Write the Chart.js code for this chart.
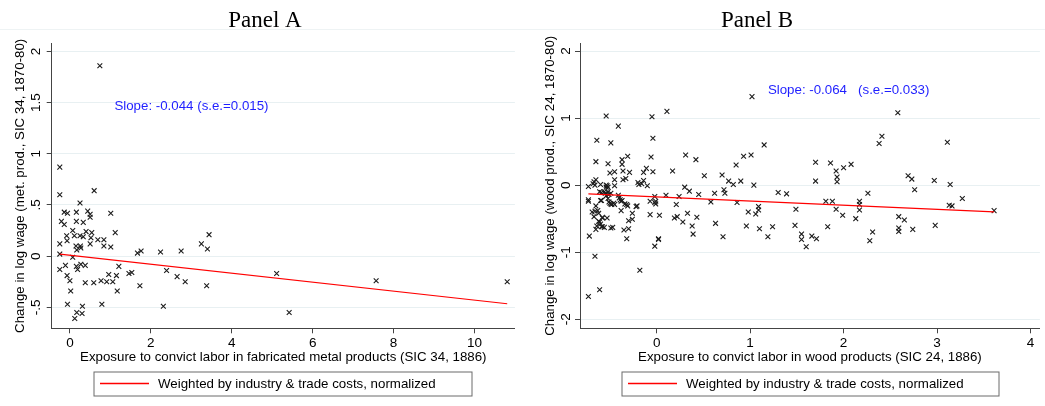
<!DOCTYPE html>
<html>
<head>
<meta charset="utf-8">
<script src="https://cdn.jsdelivr.net/npm/chart.js@4.4.0/dist/chart.umd.min.js"></script>
<style>
  body { margin: 0; background: #fff; }
  #wrap { position: relative; width: 1045px; height: 406px; overflow: hidden; }
  canvas { position: absolute; top: 0; }
  #rule { position: absolute; left: 0; top: 29px; width: 1045px; height: 1px; background: #eef3f4; }
</style>
</head>
<body>
<div id="wrap">
  <div id="rule"></div>
  <canvas id="panelA" width="520" height="406" style="left:0"></canvas>
  <canvas id="panelB" width="525" height="406" style="left:520px"></canvas>
</div>
<script>
// Panel A: fabricated metal products (SIC 34)
const ptsA = [
  [0.74,1.86],[-0.25,0.87],[-0.25,0.60],[0.60,0.64],[0.25,0.52],[-0.14,0.43],[-0.06,0.42],[0.16,0.43],
  [0.44,0.44],[0.50,0.41],[0.50,0.38],[1.01,0.42],[-0.21,0.34],[-0.14,0.31],[0.16,0.34],[0.33,0.33],
  [0.07,0.25],[0.11,0.20],[0.40,0.24],[0.54,0.23],[1.12,0.23],[-0.08,0.20],[0.25,0.20],[0.33,0.19],
  [0.52,0.18],[-0.07,0.15],[0.69,0.16],[0.84,0.16],[-0.25,0.12],[0.50,0.12],[0.15,0.10],[0.26,0.10],
  [0.27,0.08],[0.84,0.10],[1.01,0.09],[0.17,0.06],[-0.25,0.02],[0.07,-0.01],[-0.25,-0.13],[-0.11,-0.09],
  [0.16,-0.10],[0.19,-0.13],[0.27,-0.08],[0.38,-0.09],[1.21,-0.10],[-0.07,-0.19],[0.00,-0.24],[0.02,-0.34],
  [0.38,-0.26],[0.59,-0.26],[0.77,-0.24],[0.91,-0.25],[0.96,-0.18],[1.06,-0.25],[1.15,-0.19],[1.17,-0.34],
  [-0.06,-0.47],[0.17,-0.55],[0.31,-0.49],[0.30,-0.56],[0.12,-0.61],[0.79,-0.47],[1.67,0.03],[1.76,0.05],
  [2.24,0.04],[2.75,0.05],[3.25,0.12],[3.44,0.21],[3.40,0.07],[1.46,-0.17],[1.53,-0.16],[1.73,-0.29],
  [2.39,-0.14],[2.65,-0.20],[2.85,-0.25],[3.38,-0.29],[2.31,-0.49],[5.11,-0.17],[5.42,-0.55],[7.57,-0.24],
  [10.81,-0.25]
];
const fitA = [[-0.25, 0.02], [10.81, -0.465]];
const xTicksA = [0, 2, 4, 6, 8, 10];
const yTicksA = [-0.5, 0, 0.5, 1, 1.5, 2];
const yLabelsA = ['-.5', '0', '.5', '1', '1.5', '2'];
const noteA = 'Slope: -0.044 (s.e.=0.015)';
const noteAtA = [1.10, 1.46];

// Panel B: wood products (SIC 24)
const ptsB = [
  [1.02,1.32],[0.11,1.10],[-0.54,1.03],[-0.05,1.02],[2.58,1.08],[-0.41,0.88],[-0.04,0.70],[-0.64,0.67],
  [-0.49,0.63],[2.41,0.73],[2.38,0.62],[3.11,0.64],[1.15,0.60],[0.31,0.45],[0.42,0.38],[0.93,0.43],
  [1.01,0.45],[-0.06,0.42],[-0.31,0.43],[-0.65,0.35],[-0.52,0.32],[-0.37,0.38],[-0.37,0.31],[1.70,0.34],
  [1.86,0.33],[2.08,0.31],[2.00,0.26],[0.85,0.30],[1.92,0.21],[-0.11,0.25],[-0.04,0.20],[0.17,0.21],
  [-0.45,0.20],[-0.50,0.18],[-0.36,0.21],[-0.29,0.19],[-0.14,0.19],[0.51,0.14],[0.70,0.15],[2.69,0.14],
  [1.93,0.12],[1.93,0.05],[2.73,0.09],[2.97,0.07],[0.90,0.06],[0.77,0.06],[1.70,0.06],[-0.36,0.08],
  [-0.33,0.10],[-0.45,0.08],[-0.14,0.07],[-0.20,0.04],[-0.19,0.01],[-0.10,-0.01],[0.82,0.01],[1.04,0.00],
  [3.14,0.01],[-0.67,0.05],[-0.68,0.02],[-0.65,0.08],[-0.66,0.00],[-0.73,-0.02],[-0.54,0.00],[-0.54,-0.03],
  [0.30,-0.03],[0.35,-0.09],[0.72,-0.07],[0.73,-0.12],[0.62,-0.12],[2.76,-0.07],[1.30,-0.11],[1.39,-0.13],
  [2.26,-0.12],[0.10,-0.15],[0.45,-0.14],[0.24,-0.17],[-0.02,-0.17],[3.27,-0.20],[-0.73,-0.22],[-0.73,-0.24],
  [-0.60,-0.23],[-0.02,-0.26],[0.21,-0.29],[0.58,-0.25],[0.86,-0.26],[1.81,-0.24],[1.88,-0.24],[2.17,-0.24],
  [2.17,-0.29],[3.13,-0.30],[3.16,-0.31],[-0.22,-0.32],[-0.65,-0.31],[1.49,-0.36],[1.92,-0.36],[2.17,-0.37],
  [3.61,-0.38],[-0.69,-0.40],[0.33,-0.42],[0.98,-0.40],[1.06,-0.43],[1.09,-0.37],[1.09,-0.32],[-0.07,-0.44],
  [0.03,-0.45],[-0.26,-0.42],[-0.62,-0.42],[-0.67,-0.47],[0.43,-0.48],[0.19,-0.49],[0.22,-0.47],[0.28,-0.55],
  [-0.53,-0.49],[-0.58,-0.49],[-0.26,-0.51],[-0.30,-0.53],[1.99,-0.45],[2.13,-0.50],[2.59,-0.47],[2.65,-0.52],
  [-0.62,-0.54],[0.63,-0.57],[-0.60,-0.58],[-0.64,-0.61],[-0.59,-0.62],[-0.49,-0.64],[0.38,-0.61],[2.59,-0.64],
  [2.59,-0.69],[2.74,-0.66],[2.98,-0.60],[-0.65,-0.66],[-0.35,-0.67],[-0.30,-0.65],[1.48,-0.60],[1.83,-0.62],
  [1.24,-0.62],[0.96,-0.61],[1.10,-0.65],[2.31,-0.70],[0.39,-0.73],[1.55,-0.73],[1.66,-0.76],[-0.32,-0.80],
  [0.02,-0.80],[0.02,-0.81],[0.71,-0.77],[1.19,-0.77],[1.55,-0.81],[1.71,-0.80],[2.28,-0.83],[-0.72,-0.76],
  [-0.02,-0.91],[1.60,-0.92],[-0.66,-1.06],[-0.18,-1.27],[-0.61,-1.56],[-0.73,-1.66],
  [-0.60,0.01],[-0.53,-0.01],[-0.52,-0.03],[-0.45,-0.01],[-0.16,0.02],[-0.59,-0.23],[-0.61,-0.10],[-0.59,-0.11],
  [-0.56,-0.10],[-0.55,-0.12],[-0.52,-0.10],[-0.51,-0.14],[-0.49,-0.12],[-0.54,-0.16],[-0.52,-0.20],[-0.51,-0.25],
  [-0.50,-0.27],[-0.49,-0.28],[-0.48,-0.29],[-0.46,-0.27],[-0.45,-0.29],[-0.41,-0.15],[-0.40,-0.19],[-0.39,-0.22],
  [-0.38,-0.24],[-0.37,-0.23],[-0.34,-0.28],[-0.31,-0.31],[-0.32,-0.29],[-0.38,-0.38],[-0.63,-0.38],[-0.66,-0.39],
  [-0.61,-0.55],[-0.58,-0.62],[-0.56,-0.63],[-0.58,-0.48],[-0.47,-0.63],[-0.21,-0.31],[-0.07,-0.24],[-0.01,-0.24],
  [-0.01,-0.28]
];
const fitB = [[-0.73, -0.13], [3.61, -0.40]];
const xTicksB = [0, 1, 2, 3, 4];
const yTicksB = [-2, -1, 0, 1, 2];
const yLabelsB = ['-2', '-1', '0', '1', '2'];
const noteB = 'Slope: -0.064   (s.e.=0.033)';
const noteAtB = [1.19, 1.42];

const legendText = 'Weighted by industry & trade costs, normalized';

const SANS = '"Liberation Sans", Arial, sans-serif';
Chart.defaults.font.family = SANS;
Chart.defaults.color = '#000';

const toXY = arr => arr.map(p => ({ x: p[0], y: p[1] }));

// titles, slope note and the boxed legend
const panelDecor = {
  id: 'panelDecor',
  afterDraw(chart, args, o) {
    const ctx = chart.ctx;
    const xs = chart.scales.x, ys = chart.scales.y;
    ctx.save();
    ctx.font = '23px "Liberation Serif", "Times New Roman", serif';
    ctx.fillStyle = '#000';
    ctx.textAlign = 'center';
    ctx.textBaseline = 'alphabetic';
    ctx.fillText(o.title, o.titleX, 26.7);

    ctx.font = '13.3px ' + SANS;
    ctx.fillStyle = '#1f1fff';
    ctx.textAlign = 'left';
    ctx.textBaseline = 'middle';
    ctx.fillText(o.note, xs.getPixelForValue(o.noteAt[0]), ys.getPixelForValue(o.noteAt[1]));

    const b = o.box;
    ctx.strokeStyle = '#6a6a6a';
    ctx.lineWidth = 1;
    ctx.strokeRect(b[0] + 0.5, b[1] + 0.5, b[2], b[3]);

    ctx.beginPath();
    ctx.strokeStyle = 'rgb(255,0,0)';
    ctx.lineWidth = 1.4;
    ctx.moveTo(b[0] + 6.5, b[1] + 12);
    ctx.lineTo(b[0] + 55.5, b[1] + 12);
    ctx.stroke();

    ctx.fillStyle = '#000';
    ctx.fillText(legendText, b[0] + 64.5, b[1] + 12.5);
    ctx.restore();
  }
};

function makePanel(id, p) {
  return new Chart(document.getElementById(id), {
    type: 'scatter',
    data: {
      datasets: [
        {
          type: 'line', data: toXY(p.fit), borderColor: '#ff0000', borderWidth: 1.2,
          pointRadius: 0, fill: false, label: legendText
        },
        {
          data: toXY(p.pts), pointStyle: 'crossRot', pointRadius: 3.4,
          borderColor: '#1c1c1c', backgroundColor: '#1c1c1c', pointBorderWidth: 1.1
        }
      ]
    },
    options: {
      responsive: false,
      animation: false,
      events: [],
      layout: { padding: { top: 43.3, right: p.padRight, bottom: 0, left: 0 } },
      plugins: {
        legend: { display: false },
        tooltip: { enabled: false },
        panelDecor: p.decor
      },
      scales: {
        x: {
          type: 'linear', min: p.xMin, max: p.xMax,
          afterBuildTicks: s => { s.ticks = p.xTicks.map(v => ({ value: v })); },
          afterFit: s => { s.height = 77.7; },
          grid: { drawOnChartArea: false, tickLength: 5, tickColor: '#444' },
          border: { color: '#444', width: 1 },
          ticks: { color: '#000', font: { size: 13.5 }, padding: 2, maxRotation: 0, autoSkip: false },
          title: { display: true, text: p.xTitle, color: '#000', font: { size: 13.3 }, padding: { top: 0, bottom: 40.5 } }
        },
        y: {
          type: 'linear', min: p.yMin, max: p.yMax,
          afterBuildTicks: s => { s.ticks = p.yTicks.map(v => ({ value: v })); },
          afterFit: s => { s.width = p.yWidth; },
          grid: { color: '#e8f0f2', tickLength: 5, tickColor: '#444' },
          border: { color: '#444', width: 1 },
          ticks: {
            color: '#000', font: { size: 13.5 }, minRotation: 90, maxRotation: 90,
            crossAlign: 'center', padding: p.yTickPad, autoSkip: false,
            callback: (v, i) => p.yLabels[i]
          },
          title: { display: true, text: p.yTitle, color: '#000', font: { size: 13.3 }, padding: { top: p.yTitlePad, bottom: 0 } }
        }
      }
    },
    plugins: [panelDecor]
  });
}

makePanel('panelA', {
  pts: ptsA, fit: fitA, xTicks: xTicksA, yTicks: yTicksA, yLabels: yLabelsA,
  xMin: -0.45, xMax: 11.0, yMin: -0.705, yMax: 2.08,
  yWidth: 51.7, padRight: 5, yTickPad: 0.6, yTitlePad: 12.7,
  xTitle: 'Exposure to convict labor in fabricated metal products (SIC 34, 1886)',
  yTitle: 'Change in log wage (met. prod., SIC 34, 1870-80)',
  decor: { title: 'Panel A', titleX: 265, note: noteA, noteAt: noteAtA, box: [93.5, 371.5, 378, 24] }
});

makePanel('panelB', {
  pts: ptsB, fit: fitB, xTicks: xTicksB, yTicks: yTicksB, yLabels: yLabelsB,
  xMin: -0.82, xMax: 4.1, yMin: -2.135, yMax: 2.115,
  yWidth: 60, padRight: 4, yTickPad: 3, yTitlePad: 22.7,
  xTitle: 'Exposure to convict labor in wood products (SIC 24, 1886)',
  yTitle: 'Change in log wage (wood prod., SIC 24, 1870-80)',
  decor: { title: 'Panel B', titleX: 237, note: noteB, noteAt: noteAtB, box: [101.5, 371.5, 377, 24] }
});
</script>
</body>
</html>
